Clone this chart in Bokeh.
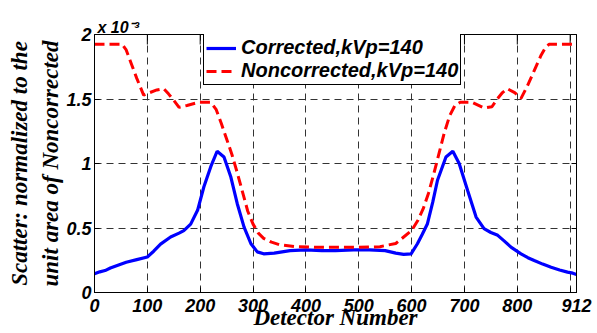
from bokeh.plotting import figure
from bokeh.models import (ColumnDataSource, Legend, LegendItem, LinearAxis,
                          FixedTicker)
from bokeh.embed import file_html
from bokeh.resources import INLINE

# ---------------- data (values in units of 1e-3) ----------------
det_corr = [0, 10, 20, 30, 43, 60, 80, 100, 112, 125, 144, 160, 169, 182, 195, 207,
            220, 232, 245, 258, 270, 283, 296, 308, 320, 340, 370, 400, 430, 456,
            490, 520, 550, 570, 585, 599, 611, 620, 630, 640, 649, 665, 678, 690,
            706, 722, 737, 750, 763, 775, 788, 807, 820, 832, 848, 864, 880, 895,
            905, 912]
corrected = [0.145, 0.16, 0.17, 0.19, 0.21, 0.235, 0.255, 0.275, 0.32, 0.375, 0.43,
             0.46, 0.48, 0.53, 0.637, 0.82, 0.975, 1.095, 1.05, 0.895, 0.69, 0.507,
             0.378, 0.315, 0.30, 0.305, 0.325, 0.33, 0.325, 0.325, 0.33, 0.33, 0.325,
             0.305, 0.295, 0.30, 0.378, 0.45, 0.533, 0.70, 0.87, 1.05, 1.095, 1.0,
             0.79, 0.585, 0.495, 0.465, 0.443, 0.40, 0.352, 0.30, 0.27, 0.248, 0.22,
             0.196, 0.175, 0.158, 0.15, 0.14]

det_nonc = [0, 52, 60, 70, 80, 93, 105, 118, 131, 140, 150, 160, 175, 198, 220, 230,
            240, 250, 260, 270, 280, 290, 300, 310, 320, 335, 350, 380, 420, 456, 500,
            540, 570, 585, 600, 612, 622, 632, 642, 652, 662, 672, 682, 692, 714, 737,
            752, 762, 772, 781, 795, 807, 819, 832, 845, 852, 860, 912]
noncorrected = [1.925, 1.925, 1.88, 1.77, 1.66, 1.53, 1.55, 1.57, 1.58, 1.54, 1.49,
                1.435, 1.45, 1.475, 1.475, 1.42, 1.31, 1.19, 1.07, 0.93, 0.78, 0.63,
                0.53, 0.46, 0.42, 0.39, 0.37, 0.355, 0.35, 0.35, 0.35, 0.355, 0.38,
                0.43, 0.48, 0.56, 0.65, 0.77, 0.92, 1.08, 1.24, 1.37, 1.45, 1.475,
                1.475, 1.43, 1.44, 1.5, 1.55, 1.58, 1.55, 1.505, 1.6, 1.72, 1.84, 1.89,
                1.925, 1.925]

x_ticks = [0, 100, 200, 300, 400, 500, 600, 700, 800, 900, 912]
x_tick_labels = ["0", "100", "200", "300", "400", "500", "600", "700", "800", "", "912"]
y_ticks = [0, 0.5, 1, 1.5, 2]
y_tick_labels = ["0", "0.5", "1", "1.5", "2"]

legend_labels = ["Corrected,kVp=140", "Noncorrected,kVp=140"]
x_title = "Detector Number"
y_title = "Scatter: normalized to the\nunit area of Noncorrected"
exp_text = "x 10\u207b\u00b3"

# ---------------- figure ----------------
SANS = "Liberation Sans"
SERIF = "Liberation Serif"
Y_MIN, Y_MAX = 0, 2

p = figure(width=597, height=333, output_backend="svg", toolbar_location=None,
           x_range=(0, 912), y_range=(Y_MIN, Y_MAX),
           min_border_left=94, min_border_right=21, min_border_top=34,
           min_border_bottom=41)
p.background_fill_color = "white"
p.border_fill_color = "white"
p.outline_line_color = "black"
p.outline_line_width = 1
p.outline_line_alpha = 1

src_c = ColumnDataSource(dict(x=det_corr, y=corrected))
src_n = ColumnDataSource(dict(x=det_nonc, y=noncorrected))

# inward tick marks along the top edge (MATLAB box style)
tick_len = 5 / 129.0 * (Y_MAX - Y_MIN)
p.segment(x0=x_ticks, x1=x_ticks, y0=[Y_MAX] * len(x_ticks),
          y1=[Y_MAX - tick_len] * len(x_ticks), line_color="black", line_width=1)

r_c = p.line("x", "y", source=src_c, line_color="#0000ff", line_width=3.2)
r_n = p.line("x", "y", source=src_n, line_color="#ff0000", line_width=3,
             line_dash="10 5")

# axes styling
for ax, ticks, labels in ((p.xaxis[0], x_ticks, x_tick_labels),
                          (p.yaxis[0], y_ticks, y_tick_labels)):
    ax.ticker = FixedTicker(ticks=ticks)
    ax.major_label_overrides = {t: l for t, l in zip(ticks, labels)}
    ax.major_tick_in = 5
    ax.major_tick_out = 0
    ax.minor_tick_line_color = None
    ax.axis_line_color = "black"
    ax.major_tick_line_color = "black"
    ax.major_label_text_font = SANS
    ax.major_label_text_font_style = "bold italic"
    ax.major_label_text_font_size = "18px"
    ax.major_label_text_color = "black"
    ax.axis_label_text_font = SERIF
    ax.axis_label_text_font_style = "bold italic"
    ax.axis_label_text_font_size = "23px"
    ax.axis_label_text_color = "black"

p.xaxis[0].major_label_standoff = 6
p.yaxis[0].major_label_standoff = 3
p.xaxis[0].axis_label = x_title
p.xaxis[0].axis_label_standoff = -10
p.yaxis[0].axis_label = y_title
p.yaxis[0].axis_label_standoff = 0
p.yaxis[0].axis_label_text_line_height = 1.25

right_ax = LinearAxis(ticker=FixedTicker(ticks=y_ticks), major_tick_in=5,
                      major_tick_out=0, minor_tick_line_color=None,
                      major_label_text_font_size="0px", major_label_standoff=0,
                      axis_line_color="black", major_tick_line_color="black")
right_ax.major_label_overrides = {t: "" for t in y_ticks}
p.add_layout(right_ax, "right")

# exponent of the y axis, shown as a title at the top left
p.title.text = exp_text
p.title.align = "left"
p.title.offset = 3
p.title.standoff = -2
p.title.text_font = SANS
p.title.text_font_style = "bold italic"
p.title.text_font_size = "16px"
p.title.text_color = "black"

# grid
for g in (p.xgrid[0], p.ygrid[0]):
    g.grid_line_color = "#333333"
    g.grid_line_dash = "7 5"
    g.grid_line_width = 1
    g.grid_line_alpha = 1
p.xgrid[0].ticker = FixedTicker(ticks=x_ticks)
p.ygrid[0].ticker = FixedTicker(ticks=y_ticks)

# legend
legend = Legend(items=[LegendItem(label=legend_labels[0], renderers=[r_c]),
                       LegendItem(label=legend_labels[1], renderers=[r_n])],
                location=(109, 207), orientation="vertical",
                label_text_font=SANS, label_text_font_style="bold italic",
                label_text_font_size="20px", label_text_color="black",
                glyph_width=30, glyph_height=20, label_height=20, label_standoff=5,
                padding=2, spacing=0, margin=0,
                border_line_color="black", border_line_width=1, border_line_alpha=1,
                background_fill_color="white", background_fill_alpha=1)
p.add_layout(legend, "center")

open("out.html", "w").write(file_html(p, INLINE))
